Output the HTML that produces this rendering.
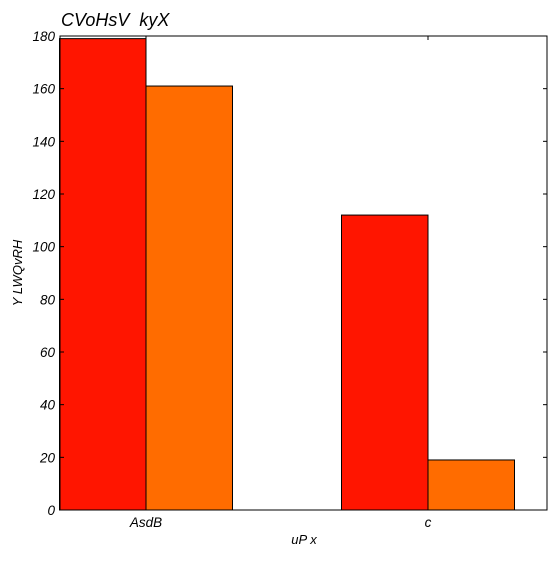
<!DOCTYPE html>
<html><head><style>
body{margin:0;background:#fff;}
text{font-family:"Liberation Sans",sans-serif;font-style:italic;fill:#000;}
</style></head><body>
<svg id="c" width="560" height="560" xmlns="http://www.w3.org/2000/svg">
<text x="61" y="26" font-size="18" style="white-space:pre">CVoHsV  kyX</text>
<g id="plot"></g>
<text x="304" y="544" font-size="13" text-anchor="middle">uP x</text>
<text x="22" y="273" font-size="13" text-anchor="middle" transform="rotate(-90 22 273)">Y LWQvRH</text>
</svg>
<script>
const categories=["AsdB","c"];
const series1=[179,112];
const series2=[161,19];
const yTicks=[0,20,40,60,80,100,120,140,160,180];
const colors=["#ff1500","#ff6c00"];
const L=60,R=547,T=36,B=510,ymax=180;
const ys=v=>B-(B-T)*v/ymax;
const step=282,barW=86.5,first=146;
const xc=i=>first+step*i;
const ns="http://www.w3.org/2000/svg";
const g=document.getElementById('plot');
function mk(tag,attrs){const e=document.createElementNS(ns,tag);for(const k in attrs)e.setAttribute(k,attrs[k]);g.appendChild(e);return e;}
[series1,series2].forEach((s,si)=>{s.forEach((v,i)=>{
 const x=si===0?xc(i)-barW:xc(i);
 const r=mk('rect',{x:x,y:ys(v),width:barW,height:B-ys(v),fill:colors[si],stroke:'#000','stroke-width':1});
 
 
});});
const frame=mk('rect',{x:L,y:T,width:R-L,height:B-T,fill:'none',stroke:'#000','stroke-width':1});


yTicks.forEach(t=>{
 const y=ys(t);
 mk('line',{x1:L,x2:L+4,y1:y,y2:y,stroke:'#000'});
 mk('line',{x1:R,x2:R-4,y1:y,y2:y,stroke:'#000'});
 const tx=mk('text',{x:L-5,y:y+5,'font-size':13.5,'text-anchor':'end'});
 tx.textContent=t;
 
 
});
categories.forEach((c,i)=>{
 mk('line',{x1:xc(i),x2:xc(i),y1:B,y2:B-4,stroke:'#000'});
 mk('line',{x1:xc(i),x2:xc(i),y1:T,y2:T+4,stroke:'#000'});
 const tx=mk('text',{x:xc(i),y:B+17,'font-size':13.5,'text-anchor':'middle'});
 tx.textContent=c;
 
 
});
</script>
</body></html>
